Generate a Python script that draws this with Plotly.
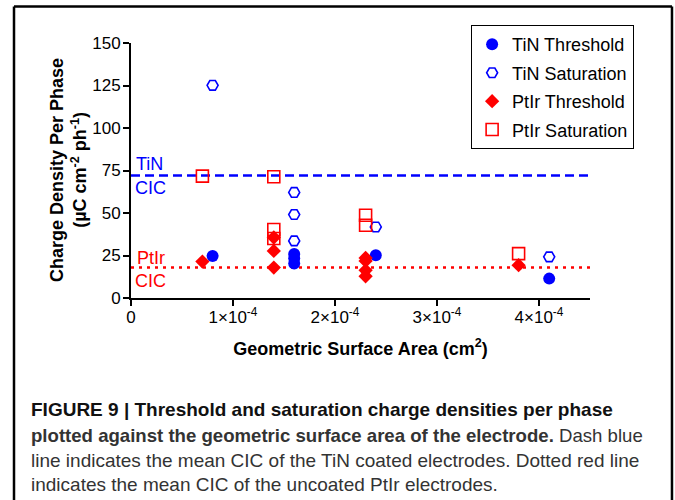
import plotly.graph_objects as go

# ---- data ----
tin_thr_x = [0.8e-4, 1.6e-4, 1.6e-4, 1.6e-4, 2.4e-4, 4.1e-4]
tin_thr_y = [24.7, 25.9, 23.4, 20.3, 25.1, 11.4]

tin_sat_x = [0.8e-4, 1.6e-4, 1.6e-4, 1.6e-4, 2.4e-4, 4.1e-4]
tin_sat_y = [125.1, 62.1, 49.1, 33.6, 41.8, 24.2]

ptir_thr_x = [0.7e-4, 1.4e-4, 1.4e-4, 1.4e-4, 2.3e-4, 2.3e-4, 2.3e-4, 2.3e-4, 3.8e-4]
ptir_thr_y = [21.4, 35.6, 27.7, 17.9, 23.6, 21.8, 16.3, 12.8, 19.3]

ptir_sat_x = [0.7e-4, 1.4e-4, 1.4e-4, 1.4e-4, 2.3e-4, 2.3e-4, 3.8e-4]
ptir_sat_y = [71.7, 71.3, 40.3, 35.0, 48.7, 42.8, 26.1]

tin_cic = 72.1
ptir_cic = 17.9

x_tickvals = [0, 1e-4, 2e-4, 3e-4, 4e-4]
x_ticktext = ["0", "1×10<sup>-4</sup>", "2×10<sup>-4</sup>", "3×10<sup>-4</sup>", "4×10<sup>-4</sup>"]
y_tickvals = [0, 25, 50, 75, 100, 125, 150]

caption_lines = [
    "<b>FIGURE 9 | Threshold and saturation charge densities per phase</b>",
    "<b>plotted against the geometric surface area of the electrode.</b> Dash blue",
    "line indicates the mean CIC of the TiN coated electrodes. Dotted red line",
    "indicates the mean CIC of the uncoated PtIr electrodes.",
]

BLUE = "#0000FF"
RED = "#FF0000"
FONT = "Liberation Sans, Arial, sans-serif"

fig = go.Figure()
fig.add_trace(go.Scatter(x=tin_thr_x, y=tin_thr_y, mode="markers", name="TiN Threshold",
                         legendgroup="a",
                         marker=dict(symbol="circle", size=12, color=BLUE)))
fig.add_trace(go.Scatter(x=tin_sat_x, y=tin_sat_y, mode="markers", name="TiN Saturation",
                         legendgroup="b",
                         marker=dict(symbol="hexagon2-open", size=11, color=BLUE,
                                     line=dict(width=1.6, color=BLUE))))
fig.add_trace(go.Scatter(x=ptir_thr_x, y=ptir_thr_y, mode="markers", name="PtIr Threshold",
                         legendgroup="c",
                         marker=dict(symbol="diamond", size=11, color=RED)))
fig.add_trace(go.Scatter(x=ptir_sat_x, y=ptir_sat_y, mode="markers", name="PtIr Saturation",
                         legendgroup="d",
                         marker=dict(symbol="square-open", size=12, color=RED,
                                     line=dict(width=1.6, color=RED))))

# frame edges in paper units (plot area: 131..590 px, 43..298 px)
FL, FR, FT, FB = -0.2549, 1.1786, 1.143, -0.9
frame = dict(color="black", width=2.5)
shapes = [
    dict(type="line", xref="paper", x0=0, x1=1, yref="y", y0=tin_cic, y1=tin_cic,
         line=dict(color=BLUE, width=2.5, dash="9px,5px"), layer="below"),
    dict(type="line", xref="paper", x0=0, x1=1, yref="y", y0=ptir_cic, y1=ptir_cic,
         line=dict(color=RED, width=2.5, dash="3px,5px"), layer="below"),
    dict(type="line", xref="paper", yref="paper", x0=FL, x1=FL, y0=FB, y1=FT, line=frame),
    dict(type="line", xref="paper", yref="paper", x0=FR, x1=FR, y0=FB, y1=FT, line=frame),
    dict(type="line", xref="paper", yref="paper", x0=FL, x1=FR, y0=FT, y1=FT, line=frame),
]

lab_font = 18
annotations = [
    dict(x=0, y=tin_cic, xref="x", yref="y", text="TiN", showarrow=False, xanchor="left",
         xshift=3, yshift=11, font=dict(size=lab_font, color=BLUE, family=FONT)),
    dict(x=0, y=tin_cic, xref="x", yref="y", text="CIC", showarrow=False, xanchor="left",
         xshift=2, yshift=-13, font=dict(size=lab_font, color=BLUE, family=FONT)),
    dict(x=0, y=ptir_cic, xref="x", yref="y", text="PtIr", showarrow=False, xanchor="left",
         xshift=4, yshift=10, font=dict(size=lab_font, color=RED, family=FONT)),
    dict(x=0, y=ptir_cic, xref="x", yref="y", text="CIC", showarrow=False, xanchor="left",
         xshift=2, yshift=-13, font=dict(size=lab_font, color=RED, family=FONT)),
    # y-axis title
    dict(x=-0.135, y=0.502, xref="paper", yref="paper", textangle=-90, showarrow=False,
         xanchor="center", yanchor="middle",
         text="<b>Charge Density Per Phase<br>(µC cm<sup>-2</sup> ph<sup>-1</sup>)</b>",
         font=dict(size=18, color="black", family=FONT)),
]
cap_y = [-0.439, -0.541, -0.639, -0.733]
for i, (line, yy) in enumerate(zip(caption_lines, cap_y)):
    annotations.append(dict(x=-0.222, y=yy, xref="paper", yref="paper", text=line,
                            showarrow=False, xanchor="left", yanchor="middle",
                            font=dict(size=19 if i != 1 else 18.6,
                                      color="#111" if i == 0 else "#333", family=FONT)))

axis_common = dict(showgrid=False, zeroline=False, showline=True, linecolor="black", linewidth=2,
                   ticks="outside", ticklen=6, tickwidth=2, tickcolor="black",
                   tickfont=dict(size=17, color="black", family=FONT))

fig.update_layout(
    width=675, height=500,
    margin=dict(l=131, r=85, t=43, b=202),
    paper_bgcolor="white", plot_bgcolor="white",
    font=dict(family=FONT, color="black"),
    showlegend=True,
    legend=dict(x=0.741, y=1.07, xanchor="left", yanchor="top",
                bordercolor="black", borderwidth=1, bgcolor="white",
                font=dict(size=18, color="black", family=FONT),
                tracegroupgap=2, traceorder="grouped"),
    xaxis=dict(range=[0, 4.5e-4], tickvals=x_tickvals, ticktext=x_ticktext,
               ticklabelstandoff=-3,
               title=dict(text="<b>Geometric Surface Area (cm<sup>2</sup>)</b>",
                          font=dict(size=18, family=FONT), standoff=16),
               **axis_common),
    yaxis=dict(range=[0, 150], tickvals=y_tickvals, ticklabelstandoff=-1, **axis_common),
    shapes=shapes,
    annotations=annotations,
)
fig.update_xaxes(automargin=False)
fig.update_yaxes(automargin=False)

fig.write_html("out.html", config={"displayModeBar": False},
               post_script="document.body.style.margin='0';document.body.style.overflow='hidden';")
